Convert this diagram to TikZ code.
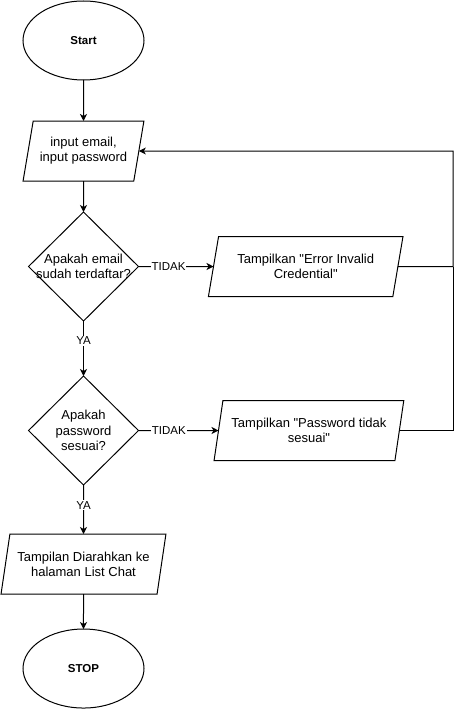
\documentclass[tikz,border=0pt]{standalone}
\usepackage{fontspec}
\setmainfont{Liberation Sans}
\usetikzlibrary{shapes.geometric, arrows.meta, positioning, calc}
\tikzset{
    term/.style = {draw, ellipse, minimum width=121pt, minimum height=79pt, outer sep=0pt, font=\fontsize{11.5}{14}\selectfont\bfseries},
    io/.style = {draw, trapezium, trapezium left angle=72, trapezium right angle=108, trapezium stretches=true, minimum height=60pt, inner sep=0pt, outer sep=0pt, align=center, font=\fontsize{13}{15}\selectfont},
    decision/.style = {draw, diamond, minimum width=110pt, minimum height=109pt, inner sep=0pt, outer sep=0pt},
    txt/.style = {align=center, font=\fontsize{13}{15.5}\selectfont},
    arr/.style = {-{Stealth[length=7pt, width=7pt, inset=2pt]}},
    lbl/.style = {fill=white, inner sep=1pt, font=\fontsize{11.5}{13}\selectfont}
}

\begin{document}
\begin{tikzpicture}[x=1pt, y=-1pt, line width=1pt]
    \useasboundingbox (0,0) rectangle (462,711);
    \node (start) [term] at (83.5,40.5) {Start};
    \node (input) [io, minimum width=121pt, below=41pt of start] {input email,\\input password};
    \node (cekemail) [decision, below=31pt of input, label={[txt]center:Apakah email\\sudah terdaftar?}] {};
    \node (cekpass) [decision, below=55pt of cekemail, label={[txt]center:Apakah\\password\\sesuai?}] {};
    \node (chat) [io, minimum width=165pt, below=49pt of cekpass] {Tampilan Diarahkan ke\\halaman List Chat};
    \node (stop) [term, below=35pt of chat] {STOP};

    \node (erremail) [io, minimum width=195pt, right=75pt of cekemail] {Tampilkan \textquotedbl Error Invalid\\Credential\textquotedbl};
    \node (errpass) [io, minimum width=190pt, right=80pt of cekpass] {Tampilkan \textquotedbl Password tidak\\sesuai\textquotedbl};
    \coordinate (back) at (453,0 |- erremail);

    \draw[arr] (start) -- (input);
    \draw[arr] (input) -- (cekemail);
    \draw[arr] (cekemail) -- node[lbl, pos=0.36] {YA} (cekpass);
    \draw[arr] (cekpass) -- node[lbl, pos=0.41] {YA} (chat);
    \draw[arr] (chat) -- (stop);

    \draw[arr] (cekemail) -- node[lbl, pos=0.4] {TIDAK} (erremail);
    \draw[arr] (cekpass) -- node[lbl, pos=0.38] {TIDAK} (errpass);
    \draw[arr] (erremail) -- (back) |- (input);
    \draw (errpass) -| (back);
\end{tikzpicture}
\end{document}
